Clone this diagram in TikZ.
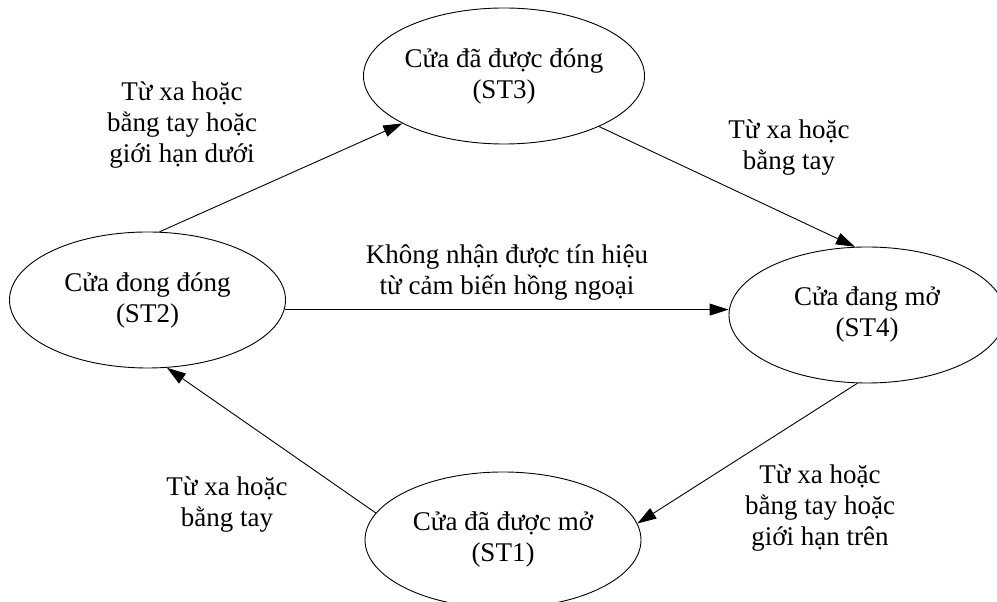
\documentclass[tikz,border=0pt]{standalone}
\usepackage{fontspec}
\setmainfont{Liberation Serif}
\usetikzlibrary{shapes.geometric,arrows.meta}

\tikzset{
  state/.style={draw, ellipse, line width=0.9pt, minimum width=276pt,
    minimum height=136pt, inner sep=0pt, align=center,
    font=\fontsize{27}{31}\selectfont},
  lbl/.style={align=center, inner sep=0pt, font=\fontsize{27}{31}\selectfont},
  trans/.style={line width=0.9pt, -{Triangle[length=19pt,width=12pt]}}
}

\begin{document}
\begin{tikzpicture}[x=1pt,y=1pt]
  \useasboundingbox (0,0) rectangle (997,602);
  \fill[white] (0,0) rectangle (997,602);
  \clip (0,0) rectangle (997,602);

  % states
  \node[state] (ST3) at (504,526) {Cửa đã được đóng\\(ST3)};
  \node[state] (ST2) at (147.5,302) {Cửa đong đóng\\(ST2)};
  \node[state] (ST4) at (867,287) {Cửa đang mở\\(ST4)};
  \node[state] (ST1) at (503,62) {Cửa đã được mở\\(ST1)};

  % transitions
  \draw[trans] (ST2.80) -- (ST3.205);
  \draw[trans] (ST3.332) -- (ST4.100);
  \draw[trans] (ST2.-4.6) -- (ST2.-4.6 -| ST4.west);
  \draw[trans] (ST4.262.6) -- (ST1.7);
  \draw[trans] (ST1.168) -- (ST2.286);

  % transition labels
  \node[lbl] (l23) at (182,477) {Từ xa hoặc\\bằng tay hoặc\\giới hạn dưới};
  \node[lbl] (l34) at (789,454) {Từ xa hoặc\\bằng tay};
  \node[lbl] (l24) at (507,329) {Không nhận được tín hiệu\\từ cảm biến hồng ngoại};
  \node[lbl] (l41) at (820,94) {Từ xa hoặc\\bằng tay hoặc\\giới hạn trên};
  \node[lbl] (l12) at (227,97) {Từ xa hoặc\\bằng tay};
\end{tikzpicture}
\end{document}
